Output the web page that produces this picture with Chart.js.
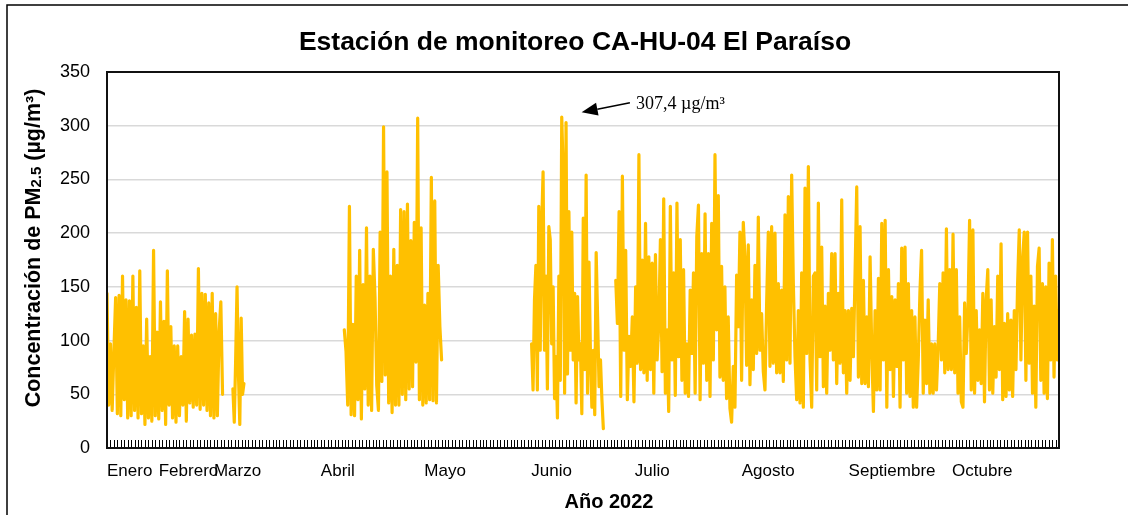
<!DOCTYPE html>
<html>
<head>
<meta charset="utf-8">
<script src="https://cdn.jsdelivr.net/npm/chart.js@4"></script>
<style>
html, body { margin: 0; padding: 0; background: #fff; }
</style>
</head>
<body>
<canvas id="chart" width="1134" height="515"></canvas>
<script>
// month names and the axis unit where each month label starts
const meses = ['Enero', 'Febrero', 'Marzo', 'Abril', 'Mayo', 'Junio', 'Julio', 'Agosto', 'Septiembre', 'Octubre'];
const inicioMes = [0, 15, 31, 62, 92, 123, 153, 184, 215, 245];
const finEje = 276;
const yTicks = [0, 50, 100, 150, 200, 250, 300, 350];

// PM2.5 readings (ug/m3)
const eneroMarzo = [144, 40, 97, 35, 90, 140, 32, 142, 30, 160, 45, 138, 28, 137, 30, 160, 35, 131, 28, 165,
  32, 95, 22, 120, 28, 85, 25, 184, 30, 108, 27, 136, 35, 118, 22, 165, 40, 113, 28, 95,
  24, 95, 30, 85, 40, 127, 25, 120, 42, 105, 38, 106, 40, 167, 36, 144, 40, 143, 35, 135,
  30, 144, 28, 125, 30, 108, 136, 50];
const marzoFin = [55, 24, 82, 150, 70, 22, 121, 50, 60];
const abrilMayo = [110, 90, 40, 225, 31, 115, 30, 160, 45, 184, 27, 152, 55, 205, 40, 160, 35, 185, 140, 58,
  35, 201, 62, 299, 68, 257, 42, 160, 33, 185, 40, 170, 40, 222, 50, 220, 45, 227, 55, 193,
  57, 210, 80, 307, 45, 205, 40, 133, 42, 144, 45, 252, 44, 230, 42, 170, 113, 82];
const junio = [97, 54, 138, 170, 54, 225, 91, 206, 257, 91, 160, 55, 206, 194, 97, 150, 46, 85, 28, 160,
  63, 308, 257, 51, 303, 69, 220, 91, 201, 82, 144, 42, 141,
  82, 97, 32, 214, 73, 254, 51, 173, 88, 38, 91, 31, 182, 122, 57, 82, 45, 18];
const julio = [156, 116, 220, 48, 253, 91, 184, 45, 104, 76, 122, 43, 150, 79, 273, 73, 175, 70, 209, 63,
  178, 73, 172, 51, 180, 82, 115, 194, 71, 232, 51, 110, 34, 225, 82, 163, 49, 228, 85, 194,
  63, 166, 51, 97, 48, 147, 88, 163, 51, 197, 226, 45, 181, 79, 218, 63, 181, 48, 209, 82,
  273, 110, 235, 66, 169, 63, 150, 46, 122];
const agosto = [37, 24, 76, 38, 161, 113, 201, 63, 210, 178, 77, 189, 59, 138, 73, 170, 88, 215, 91, 125,
  71, 54, 135, 201, 76, 206, 79, 200, 70, 153, 70, 147, 62, 217, 82, 234, 79, 254, 153, 85,
  45, 128, 42, 163, 38, 242, 88, 262, 82, 38, 160, 163, 54, 228, 85, 187, 57, 132, 51, 144,
  91, 181, 82, 181, 60, 144, 79, 231, 70, 128, 51, 128, 63, 130, 85, 163, 243, 66, 206, 60,
  156, 60, 122, 57, 178, 91, 34, 128, 54, 158, 54, 209, 82];
const septOctubre = [212, 38, 166, 73, 141, 48, 138, 76, 153, 38, 186, 82, 187, 51, 153, 48, 128, 38, 122, 38,
  82, 145, 184, 51, 119, 60, 138, 51, 97, 51, 97, 54, 94, 153, 82, 163, 70, 204, 73, 166,
  73, 199, 70, 166, 51, 122, 43, 38, 135, 88, 125, 212, 54, 203, 51, 128, 63, 110, 60, 144,
  43, 138, 166, 54, 138, 51, 113, 66, 160, 73, 190, 45, 116, 48, 125, 54, 119, 48, 128, 73,
  153, 203, 82, 175, 201, 63, 201, 79, 160, 51, 132, 38, 169, 186, 63, 153, 51, 150, 46, 172,
  82, 194, 66, 160, 82, 128];

// axis span of each block; sigue = joined to the previous block (no gap)
const tramos = [
  { valores: eneroMarzo, desde: 0, hasta: 33.5 },
  { valores: marzoFin, desde: 36.5, hasta: 39.7 },
  { valores: abrilMayo, desde: 68.8, hasta: 97.0 },
  { valores: junio, desde: 123.1, hasta: 143.9 },
  { valores: julio, desde: 147.5, hasta: 180.1 },
  { valores: agosto, desde: 180.6, hasta: 225.1, sigue: true },
  { valores: septOctubre, desde: 225.6, hasta: 276, sigue: true }
];

const anotacion = { texto: '307,4 \u00b5g/m\u00b3', punta: [137.6, 312.5], cola: [151.6, 321.4], textoEn: [153.4, 315.6] };

const puntos = [];
tramos.forEach((t, k) => {
  if (k > 0 && !t.sigue) puntos.push({ x: t.desde - 0.3, y: null });
  const n = t.valores.length;
  t.valores.forEach((v, i) => {
    puntos.push({ x: t.desde + (t.hasta - t.desde) * i / (n - 1), y: v });
  });
});

const fuente = 'Liberation Sans, Arial, sans-serif';

const marco = {
  id: 'marco',
  afterDraw(chart) {
    const ctx = chart.ctx;
    const a = chart.chartArea;
    const xs = chart.scales.x, ys = chart.scales.y;
    ctx.save();

    // daily tick marks along the bottom axis
    ctx.strokeStyle = '#000';
    ctx.lineWidth = 1;
    ctx.beginPath();
    for (let u = 0; u <= finEje; u++) {
      const px = Math.round(xs.getPixelForValue(u)) + 0.5;
      ctx.moveTo(px, a.bottom - 8);
      ctx.lineTo(px, a.bottom);
    }
    ctx.stroke();

    // plot area border
    ctx.lineWidth = 2;
    ctx.strokeStyle = '#111';
    ctx.strokeRect(a.left, a.top, a.right - a.left, a.bottom - a.top);

    // outer chart frame
    ctx.lineWidth = 1.5;
    ctx.strokeStyle = '#000';
    ctx.beginPath();
    ctx.moveTo(7, 520);
    ctx.lineTo(7, 5);
    ctx.lineTo(1128, 5);
    ctx.stroke();

    // title
    ctx.fillStyle = '#000';
    ctx.textAlign = 'center';
    ctx.textBaseline = 'alphabetic';
    ctx.font = 'bold 26.5px ' + fuente;
    ctx.fillText('Estaci\u00f3n de monitoreo CA-HU-04 El Para\u00edso', 575, 50);

    // x axis title
    ctx.font = 'bold 20px ' + fuente;
    ctx.fillText('A\u00f1o 2022', 609, 508);

    // y axis title with smaller 2.5
    const partes = [
      ['Concentraci\u00f3n de PM', 'bold 21.5px ' + fuente, 0],
      ['2.5', 'bold 15px ' + fuente, 1],
      [' (\u00b5g/m\u00b3)', 'bold 21.5px ' + fuente, 0]
    ];
    let total = 0;
    partes.forEach(p => { ctx.font = p[1]; p.push(ctx.measureText(p[0]).width); total += p[3]; });
    ctx.translate(40, 248);
    ctx.rotate(-Math.PI / 2);
    ctx.textAlign = 'left';
    let cx = -total / 2;
    partes.forEach(p => {
      ctx.font = p[1];
      ctx.fillText(p[0], cx, p[2]);
      cx += p[3];
    });
    ctx.setTransform(1, 0, 0, 1, 0, 0);

    // annotation arrow for the maximum
    const tx = xs.getPixelForValue(anotacion.punta[0]), ty = ys.getPixelForValue(anotacion.punta[1]);
    const cxp = xs.getPixelForValue(anotacion.cola[0]), cyp = ys.getPixelForValue(anotacion.cola[1]);
    const ang = Math.atan2(ty - cyp, tx - cxp);
    const largo = 16, ancho = 6.5;
    const bx = tx - largo * Math.cos(ang), by = ty - largo * Math.sin(ang);
    ctx.strokeStyle = '#000';
    ctx.lineWidth = 1.5;
    ctx.beginPath();
    ctx.moveTo(cxp, cyp);
    ctx.lineTo(bx, by);
    ctx.stroke();
    ctx.beginPath();
    ctx.moveTo(tx, ty);
    ctx.lineTo(bx + ancho * Math.sin(ang), by - ancho * Math.cos(ang));
    ctx.lineTo(bx - ancho * Math.sin(ang), by + ancho * Math.cos(ang));
    ctx.closePath();
    ctx.fill();
    ctx.font = '18px Liberation Serif, Times New Roman, serif';
    ctx.textAlign = 'left';
    ctx.fillText(anotacion.texto, xs.getPixelForValue(anotacion.textoEn[0]), ys.getPixelForValue(anotacion.textoEn[1]));

    ctx.restore();
  }
};

const ctx = document.getElementById('chart').getContext('2d');
new Chart(ctx, {
  type: 'line',
  data: {
    datasets: [{
      data: puntos,
      borderColor: '#FFC000',
      borderWidth: 3.2,
      borderJoinStyle: 'round',
      borderCapStyle: 'round',
      pointRadius: 0,
      tension: 0,
      spanGaps: false,
      fill: false
    }]
  },
  options: {
    responsive: false,
    animation: false,
    events: [],
    layout: { padding: { left: 0, top: 72, right: 75, bottom: 0 } },
    plugins: { legend: { display: false }, tooltip: { enabled: false }, title: { display: false } },
    scales: {
      x: {
        type: 'linear',
        min: 0,
        max: finEje,
        afterBuildTicks: s => { s.ticks = inicioMes.map(v => ({ value: v })); },
        afterFit: s => { s.height = 67; },
        grid: { display: false, drawTicks: false },
        border: { display: false },
        ticks: {
          autoSkip: false,
          maxRotation: 0,
          align: 'start',
          padding: 13,
          color: '#000',
          font: { family: fuente, size: 17 },
          callback: (v, i) => meses[i]
        }
      },
      y: {
        min: 0,
        max: 350,
        afterBuildTicks: s => { s.ticks = yTicks.map(v => ({ value: v })); },
        afterFit: s => { s.width = 107; },
        grid: { color: '#d9d9d9', lineWidth: 1.5, drawTicks: false },
        border: { display: false },
        ticks: { padding: 17, color: '#000', font: { family: fuente, size: 18 } }
      }
    }
  },
  plugins: [marco]
});
</script>
</body>
</html>
